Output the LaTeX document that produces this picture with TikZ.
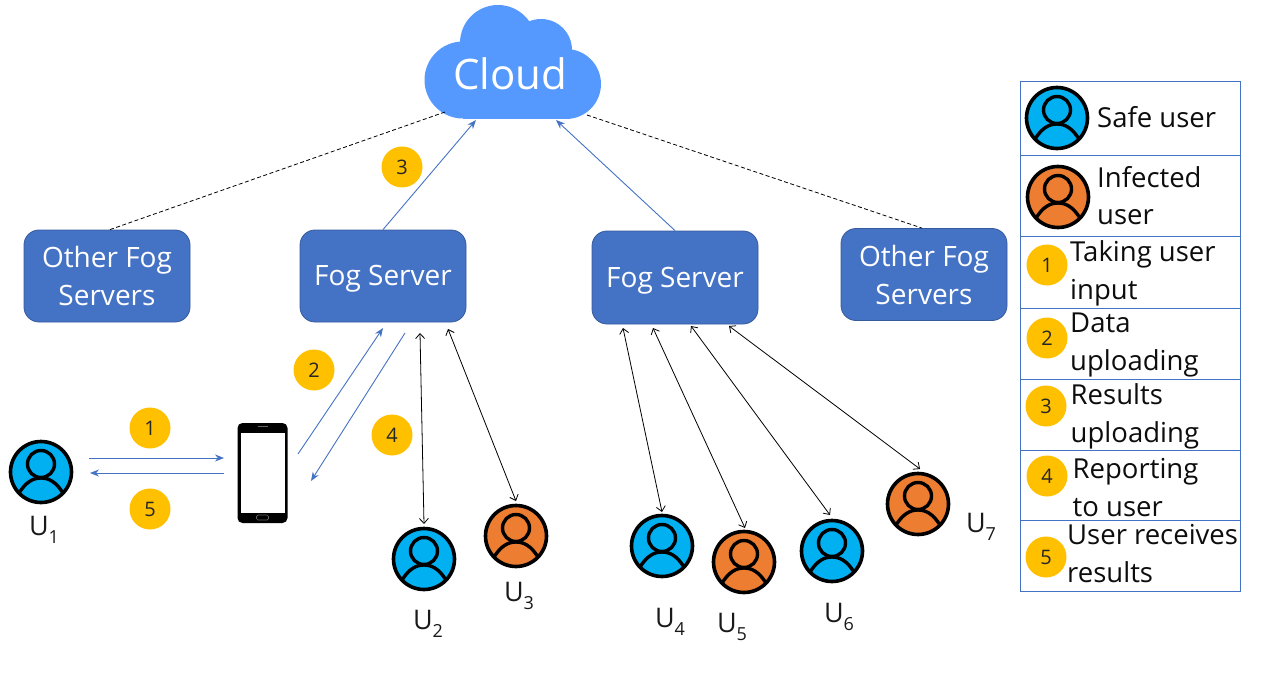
\documentclass[tikz,border=0pt]{standalone}
\usepackage{fontspec}
\setmainfont{Open Sans}
\usetikzlibrary{arrows.meta,calc}
\definecolor{cloudblue}{HTML}{5599FF}
\definecolor{safeblue}{HTML}{00B0F0}
\definecolor{infected}{HTML}{ED7D31}
\definecolor{badge}{HTML}{FFC000}
\definecolor{fogblue}{HTML}{4472C4}
\newcommand{\fs}[1]{\fontsize{#1}{#1}\selectfont}
\tikzset{
  fogbox/.style={draw=fogblue!80!black,line width=0.8pt,fill=fogblue,rounded corners=15pt,minimum width=166pt,minimum height=92pt,inner sep=0pt,align=center,text=white,font=\fs{28},execute at begin node={\baselineskip=38pt}},
  badgedot/.style={circle,fill=badge,minimum size=41pt,inner sep=0pt,font=\fs{20},text=black!85},
  userdisc/.style={circle,draw=black,line width=3.6pt,minimum size=61pt,inner sep=0pt},
  ulabel/.style={font=\fs{27},text=black!90,inner sep=0pt,anchor=base},
  legendtext/.style={font=\fs{27.5},text=black!95,inner sep=0pt,anchor=base west},
  bluelink/.style={draw=fogblue,line width=0.9pt,-{Stealth[length=9pt,width=7pt]}},
  blacklink/.style={draw=black,line width=0.8pt,{Straight Barb[length=5pt,width=9pt]}-{Straight Barb[length=5pt,width=9pt]}},
  dashlink/.style={draw=black,line width=0.8pt,dash pattern=on 4pt off 2.5pt},
  legendrule/.style={draw=fogblue,line width=0.9pt}
}
% user icon: coloured disc with a head and shoulders outline
\newcommand{\usericon}[4]{%
  \node[userdisc,fill=#4] (#1) at (#2,#3) {};
  \begin{scope}[shift={(#2,#3)}]
    \draw[line width=3.4pt] (0,-8) circle (13.5);
    \draw[line width=3.4pt] (-22,21) .. controls (-15,10) and (-8,6) .. (0,6) .. controls (8,6) and (15,10) .. (22,21);
  \end{scope}}
\newcommand{\ulab}[4]{\node[ulabel] (#1) at (#2,#3) {U\raisebox{-0.3em}{\fs{18}#4}};}
\begin{document}
\begin{tikzpicture}[x=1pt,y=-1pt]
\useasboundingbox (0,0) rectangle (1266,687);

% cloud outline built from overlapping lobes
\fill[cloudblue] (463,80) circle (38.5);
\fill[cloudblue] (498,43) circle (38);
\fill[cloudblue] (541,50) circle (31);
\fill[cloudblue] (566,84) circle (35);
\fill[cloudblue] (463,70) rectangle (566,119);
\node[font=\fs{42},text=white,inner sep=0pt] (cloud) at (510,74) {Cloud};

% fog layer
\node[fogbox] (otherA) at (107,276) {Other Fog\\Servers};
\node[fogbox] (fogA) at (383,276) {\raisebox{-9.5pt}[0pt][0pt]{Fog Server}};
\node[fogbox,minimum height=93pt] (fogB) at (675,277.5) {\raisebox{-9.5pt}[0pt][0pt]{Fog Server}};
\node[fogbox] (otherB) at (924,274.5) {Other Fog\\Servers};

% users
\usericon{uone}{41}{472}{safeblue}
\usericon{utwo}{424}{559}{safeblue}
\usericon{uthree}{516}{536}{infected}
\usericon{ufour}{662}{546}{safeblue}
\usericon{ufive}{744}{562}{infected}
\usericon{usix}{832}{551}{safeblue}
\usericon{useven}{918}{504}{infected}
\ulab{lone}{44}{535}{1}
\ulab{ltwo}{428}{629}{2}
\ulab{lthree}{519}{601}{3}
\ulab{lfour}{670}{627}{4}
\ulab{lfive}{732}{632}{5}
\ulab{lsix}{839}{622}{6}
\ulab{lseven}{981}{532}{7}

% phone
\node[fill=black,rounded corners=5pt,minimum width=50pt,minimum height=100pt,inner sep=0pt] (phone) at (262.5,473) {};
\fill[white] (240.5,433) rectangle (285,513);
\draw[black!60,line width=0.8pt] (258,426.5) -- (268,426.5);
\draw[black!60!white,line width=0.7pt,rounded corners=1.5pt] (256.5,515) rectangle (268.5,520);

% numbered badges on the links
\node[badgedot] (bone) at (150,428) {1};
\node[badgedot] (btwo) at (314,370) {2};
\node[badgedot] (bthree) at (402,167) {3};
\node[badgedot] (bfour) at (392,435) {4};
\node[badgedot] (bfive) at (150,509) {5};

% free link ends next to the nodes
\coordinate (ctlL) at (445,112);
\coordinate (ctlA) at (476,120);
\coordinate (ctlB) at (556,120);
\coordinate (ctlR) at (587,115);
\coordinate (uoneOut) at (89,458);
\coordinate (uoneIn) at (90,473);
\coordinate (phoneIn) at (224,458);
\coordinate (phoneOut) at (224,473);
\coordinate (phoneUp) at (298,454);
\coordinate (phoneDown) at (311,481);
\coordinate (fogAin) at (383,328);
\coordinate (fogAout) at (405,333);
\coordinate (fogAtwo) at (420,333);
\coordinate (fogAthree) at (448,329);
\coordinate (fogBfour) at (623,328);
\coordinate (fogBfive) at (653,328);
\coordinate (fogBsix) at (691,326);
\coordinate (fogBseven) at (729,326);
\coordinate (utwoTop) at (424,524);
\coordinate (uthreeTop) at (516,501);
\coordinate (ufourTop) at (662,512);
\coordinate (ufiveTop) at (745,528);
\coordinate (usixTop) at (830,515);
\coordinate (usevenTop) at (920,469);

\draw[dashlink] (otherA.north) ++(3,0) -- (ctlL);
\draw[dashlink] (ctlR) -- ($(otherB.north)+(-2,0)$);
\draw[bluelink] (fogA.north) -- (ctlA);
\draw[bluelink] (fogB.north) -- (ctlB);
\draw[bluelink] (uoneOut) -- (phoneIn);
\draw[bluelink] (phoneOut) -- (uoneIn);
\draw[bluelink] (phoneUp) -- (fogAin);
\draw[bluelink] (fogAout) -- (phoneDown);
\draw[blacklink] (fogAtwo) -- (utwoTop);
\draw[blacklink] (fogAthree) -- (uthreeTop);
\draw[blacklink] (fogBfour) -- (ufourTop);
\draw[blacklink] (fogBfive) -- (ufiveTop);
\draw[blacklink] (fogBsix) -- (usixTop);
\draw[blacklink] (fogBseven) -- (usevenTop);

% legend table
\draw[legendrule] (1020,81) rectangle (1240,591);
\foreach \rowy in {155,236,308,379,450,520}
  \draw[legendrule] (1020,\rowy) -- (1240,\rowy);
\usericon{keysafe}{1057}{118}{safeblue}
\usericon{keyinf}{1058}{197}{infected}
\node[legendtext] (tsafe) at (1097,128) {Safe user};
\node[legendtext] (tinfa) at (1097,188) {Infected};
\node[legendtext] (tinfb) at (1097,225) {user};
\node[badgedot] (kone) at (1047,265) {1};
\node[legendtext] (tonea) at (1070,261) {Taking user};
\node[legendtext] (toneb) at (1070,299) {input};
\node[badgedot] (ktwo) at (1047,338) {2};
\node[legendtext] (ttwoa) at (1070,332) {Data};
\node[legendtext] (ttwob) at (1070,370) {uploading};
\node[badgedot] (kthree) at (1046,406) {3};
\node[legendtext] (tthreea) at (1070.5,404) {Results};
\node[legendtext] (tthreeb) at (1070.5,442) {uploading};
\node[badgedot] (kfour) at (1047,476) {4};
\node[legendtext] (tfoura) at (1072.5,478) {Reporting};
\node[legendtext] (tfourb) at (1072.5,516) {to user};
\node[badgedot] (kfive) at (1046,557) {5};
\node[legendtext] (tfivea) at (1067,544) {User receives};
\node[legendtext] (tfiveb) at (1067,582) {results};
\end{tikzpicture}
\end{document}
